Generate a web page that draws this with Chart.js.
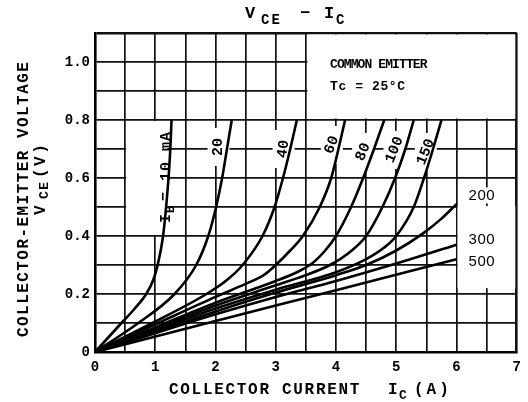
<!DOCTYPE html>
<html>
<head>
<meta charset="utf-8">
<script src="https://cdn.jsdelivr.net/npm/chart.js@4.4.1/dist/chart.umd.min.js"></script>
<style>
  html, body { margin: 0; padding: 0; background: #fff; }
</style>
</head>
<body>
<canvas id="chart" width="528" height="402"></canvas>
<script>
"use strict";

// Base current of each curve (mA)
const ibLabels = ["10", "20", "40", "60", "80", "100", "150", "200", "300", "500"];

// Collector current IC (A) and VCE (V)
const ic10 = [0, 0.22, 0.44, 0.66, 0.85, 0.97, 1.04, 1.13, 1.18, 1.22, 1.25, 1.27];
const vce10 = [0, 0.05, 0.1, 0.15, 0.2, 0.25, 0.3, 0.4, 0.5, 0.6, 0.7, 0.8];
const ic20 = [0, 0.72, 1.32, 1.68, 1.88, 2.01, 2.11, 2.19, 2.27];
const vce20 = [0, 0.1, 0.2, 0.3, 0.4, 0.5, 0.6, 0.7, 0.8];
const ic40 = [0, 0.95, 1.85, 2.2, 2.45, 2.78, 2.98, 3.12, 3.24, 3.35];
const vce40 = [0, 0.1, 0.2, 0.25, 0.3, 0.4, 0.5, 0.6, 0.7, 0.8];
const ic60 = [0, 1.05, 2.0, 2.5, 2.8, 3.0, 3.24, 3.45, 3.73, 3.92, 4.04, 4.15];
const vce60 = [0, 0.1, 0.19, 0.235, 0.265, 0.3, 0.35, 0.4, 0.5, 0.6, 0.7, 0.8];
const ic80 = [0, 1.0, 2.0, 3.0, 3.35, 3.6, 3.82, 4.0, 4.25, 4.45, 4.63, 4.8];
const vce80 = [0, 0.085, 0.17, 0.245, 0.275, 0.305, 0.35, 0.4, 0.5, 0.6, 0.7, 0.8];
const ic100 = [0, 1.0, 2.0, 3.0, 3.5, 3.9, 4.2, 4.5, 4.77, 4.98, 5.15, 5.29];
const vce100 = [0, 0.08, 0.16, 0.23, 0.265, 0.3, 0.34, 0.4, 0.5, 0.6, 0.7, 0.8];
const ic150 = [0, 1.0, 2.0, 3.0, 4.0, 4.5, 4.8, 5.0, 5.29, 5.46, 5.61, 5.75];
const vce150 = [0, 0.075, 0.15, 0.215, 0.275, 0.32, 0.36, 0.4, 0.5, 0.6, 0.7, 0.8];
const ic200 = [0, 1.0, 2.0, 3.0, 4.0, 4.5, 5.0, 5.45, 5.75, 6.0];
const vce200 = [0, 0.07, 0.14, 0.205, 0.265, 0.3, 0.35, 0.41, 0.46, 0.51];
const ic300 = [0, 1, 2, 3, 4, 5, 6];
const vce300 = [0, 0.065, 0.13, 0.19, 0.245, 0.305, 0.37];
const ic500 = [0, 2, 4, 6];
const vce500 = [0, 0.107, 0.213, 0.32];

const curves = [
  [ic10, vce10], [ic20, vce20], [ic40, vce40], [ic60, vce60], [ic80, vce80],
  [ic100, vce100], [ic150, vce150], [ic200, vce200], [ic300, vce300], [ic500, vce500],
];

const xTickLabels = ["0", "1", "2", "3", "4", "5", "6", "7"];
const yTickLabels = ["0", "0.2", "0.4", "0.6", "0.8", "1.0"];

const MONO = '"Liberation Mono", "DejaVu Sans Mono", monospace';
const SANS = '"Liberation Sans", Arial, sans-serif';

// Curve labels: text, [IC, VCE] centre, rotation (deg)
const curveTags = [
  ["20", [2.05, 0.707], -90],
  ["40", [3.13, 0.70], -82],
  ["60", [3.93, 0.714], -68],
  ["80", [4.45, 0.69], -68],
  ["100", [4.97, 0.697], -68],
  ["150", [5.49, 0.69], -68],
  ["200", [6.42, 0.54], 0],
  ["300", [6.42, 0.386], 0],
  ["500", [6.42, 0.31], 0],
];

function rect(ctx, x1, y1, x2, y2) {
  ctx.fillRect(Math.min(x1, x2), Math.min(y1, y2), Math.abs(x2 - x1), Math.abs(y2 - y1));
}

const annotate = {
  id: "annotate",
  // white patches that hide the grid behind the labels
  beforeDatasetsDraw(chart) {
    const { ctx, scales: { x, y } } = chart;
    ctx.save();
    ctx.fillStyle = "#fff";
    // COMMON EMITTER box
    rect(ctx, x.getPixelForValue(3.5) + 1.5, y.getPixelForValue(1.1) + 1.5,
              x.getPixelForValue(7) - 1.5, y.getPixelForValue(0.8) - 1.5);
    // IB = 10mA
    rect(ctx, x.getPixelForValue(0.5) + 1, y.getPixelForValue(0.8) + 1,
              x.getPixelForValue(1.2), y.getPixelForValue(0.4) - 1);
    // 300 / 500 area
    rect(ctx, x.getPixelForValue(6) + 1, y.getPixelForValue(0.5) - 1,
              x.getPixelForValue(7) - 1.5, y.getPixelForValue(0.22));
    curveTags.forEach(([t, [ix, iv], rot]) => {
      const px = x.getPixelForValue(ix), py = y.getPixelForValue(iv);
      if (rot === 0) rect(ctx, px - 17, py - 8, px + 17, py + 8);
      else rect(ctx, px - 11, py - 19, px + 11, py + 19);
    });
    ctx.restore();
  },
  afterDatasetsDraw(chart) {
    const { ctx, scales: { x, y } } = chart;
    ctx.save();
    ctx.fillStyle = "#000";
    ctx.textBaseline = "alphabetic";

    // title  VCE - IC
    ctx.font = `bold 17px ${MONO}`;
    ctx.fillText("V", 245, 18);
    ctx.font = `bold 14px ${MONO}`;
    ctx.letterSpacing = "2px";
    ctx.fillText("CE", 261, 24);
    ctx.letterSpacing = "0px";
    ctx.font = `bold 17px ${MONO}`;
    ctx.fillText("\u2212", 300, 18);
    ctx.fillText("I", 324, 18);
    ctx.font = `bold 14px ${MONO}`;
    ctx.fillText("C", 336, 24);

    // x axis title
    ctx.font = `bold 16px ${MONO}`;
    ctx.letterSpacing = "1.7px";
    ctx.fillText("COLLECTOR CURRENT", 169, 394);
    ctx.letterSpacing = "0px";
    ctx.fillText("I", 388, 394);
    ctx.font = `bold 13px ${MONO}`;
    ctx.fillText("C", 399, 399);
    ctx.font = `bold 16px ${MONO}`;
    ctx.letterSpacing = "3px";
    ctx.fillText("(A)", 414, 394);
    ctx.letterSpacing = "0px";

    // y axis title
    ctx.save();
    ctx.translate(28, 337);
    ctx.rotate(-Math.PI / 2);
    ctx.font = `bold 16px ${MONO}`;
    ctx.letterSpacing = "1.45px";
    ctx.fillText("COLLECTOR-EMITTER VOLTAGE", 0, 0);
    ctx.restore();
    ctx.save();
    ctx.translate(45, 215);
    ctx.rotate(-Math.PI / 2);
    ctx.font = `bold 16px ${MONO}`;
    ctx.fillText("V", 0, 0);
    ctx.font = `bold 13px ${MONO}`;
    ctx.letterSpacing = "1.5px";
    ctx.fillText("CE", 16, 3);
    ctx.font = `bold 16px ${MONO}`;
    ctx.letterSpacing = "2.5px";
    ctx.fillText("(V)", 37, 0);
    ctx.restore();

    // legend box text
    ctx.font = `bold 13px ${MONO}`;
    ctx.letterSpacing = "-0.9px";
    ctx.fillText("COMMON EMITTER", 330, 68);
    ctx.letterSpacing = "0.6px";
    ctx.fillText("Tc = 25\u00b0C", 330, 90);
    ctx.letterSpacing = "0px";

    // IB = 10mA
    ctx.save();
    ctx.translate(170, 223);
    ctx.rotate(-Math.PI / 2);
    ctx.font = `bold 15px ${MONO}`;
    ctx.fillText("I", 0, 0);
    ctx.font = `bold 12px ${MONO}`;
    ctx.fillText("B", 10, 4);
    ctx.font = `bold 15px ${MONO}`;
    ctx.letterSpacing = "1px";
    ctx.fillText("= 10 mA", 22, 0);
    ctx.restore();

    // curve labels
    ctx.textAlign = "center";
    ctx.textBaseline = "middle";
    curveTags.forEach(([t, [ix, iv], rot]) => {
      const px = x.getPixelForValue(ix), py = y.getPixelForValue(iv);
      ctx.save();
      ctx.translate(px, py);
      ctx.rotate(rot * Math.PI / 180);
      if (rot === 0) {
        ctx.font = `15px ${SANS}`;
        ctx.letterSpacing = "0.5px";
      } else {
        ctx.font = `bold 15px ${MONO}`;
        ctx.letterSpacing = "0px";
      }
      ctx.fillText(t, 0, 0);
      ctx.restore();
    });
    ctx.restore();
  },
};

const gridWidth = (c) => {
  const v = c.tick ? c.tick.value : 0;
  return (Math.abs(v - 7) < 1e-6 || Math.abs(v - 1.1) < 1e-6) ? 2.6 : 1.7;
};

new Chart(document.getElementById("chart"), {
  type: "line",
  data: {
    datasets: curves.map(([ic, vce], i) => ({
      label: `IB = ${ibLabels[i]} mA`,
      data: ic.map((v, k) => ({ x: v, y: vce[k] })),
      borderColor: "#000",
      borderWidth: 2.6,
      pointRadius: 0,
      fill: false,
      cubicInterpolationMode: "monotone",
    })),
  },
  options: {
    responsive: false,
    animation: false,
    events: [],
    layout: { padding: { top: 33, right: 5, left: 0, bottom: 0 } },
    plugins: { legend: { display: false }, tooltip: { enabled: false } },
    scales: {
      x: {
        type: "linear",
        min: 0, max: 7,
        ticks: {
          stepSize: 0.5, autoSkip: false, maxRotation: 0, padding: 7,
          color: "#000", font: { family: MONO, size: 14, weight: "bold" },
          callback: (v) => Number.isInteger(v) ? xTickLabels[v] : "",
        },
        grid: { color: "#111", lineWidth: gridWidth, drawTicks: false },
        border: { color: "#000", width: 2.6 },
        afterFit: (s) => { s.height = 50; },
      },
      y: {
        min: 0, max: 1.1,
        ticks: {
          stepSize: 0.1, autoSkip: false, padding: 5,
          color: "#000", font: { family: MONO, size: 14, weight: "bold" },
          callback: (v) => {
            const k = Math.round(v * 10);
            return (k % 2 === 0 && k <= 10) ? yTickLabels[k / 2] : "";
          },
        },
        grid: { color: "#111", lineWidth: gridWidth, drawTicks: false },
        border: { color: "#000", width: 2.6 },
        afterFit: (s) => { s.width = 95; },
      },
    },
  },
  plugins: [annotate],
});
</script>
</body>
</html>
